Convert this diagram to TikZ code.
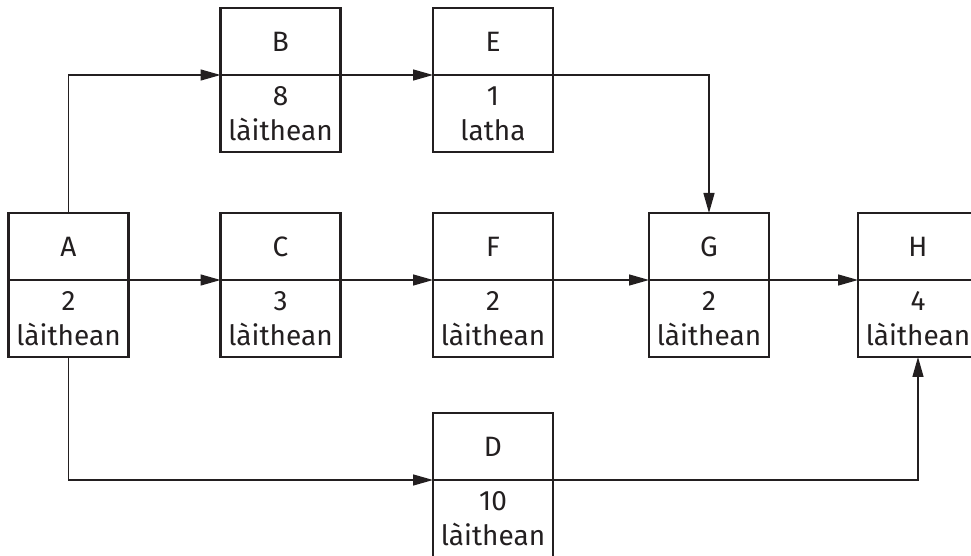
\documentclass[tikz,border=0pt]{standalone}
\usepackage{fontspec}
\setmainfont{Fira Sans}
\usetikzlibrary{arrows.meta,positioning}
\definecolor{ink}{HTML}{231F20}

\tikzset{
  head/.style={draw=ink, line width=1.3pt, minimum width=60pt, minimum height=33.5pt,
    inner sep=0pt, outer sep=0pt, anchor=south},
  body/.style={draw=ink, line width=1.3pt, minimum width=60pt, minimum height=38.5pt,
    inner sep=0pt, outer sep=0pt, align=center},
  link/.style={draw=ink, line width=.7pt, -{Triangle[length=10pt,width=5.5pt]}}
}

\begin{document}
\begin{tikzpicture}[x=.5pt,y=-.5pt,font=\fontsize{14}{17.5}\selectfont,text=ink]
\useasboundingbox (0,0) rectangle (971,556);

        % task names
        \node[head] (A) at (68.5,280) {A};
        \node[head] (B) at (280.5,75) {B};
        \node[head] (C) at (280.5,280) {C};
        \node[head] (D) at (493,480) {D};
        \node[head] (E) at (493,75) {E};
        \node[head] (F) at (493,280) {F};
        \node[head] (G) at (709,280) {G};
        \node[head] (H) at (918,280) {H};

        % durations
        \begin{scope}[every node/.style={body}]
          \node[below=0pt of A] (A-d) {2\\làithean};
          \node[below=0pt of B] (B-d) {8\\làithean};
          \node[below=0pt of C] (C-d) {3\\làithean};
          \node[below=0pt of D] (D-d) {10\\làithean};
          \node[below=0pt of E] (E-d) {1\\latha};
          \node[below=0pt of F] (F-d) {2\\làithean};
          \node[below=0pt of G] (G-d) {2\\làithean};
          \node[below=0pt of H] (H-d) {4\\làithean};
        \end{scope}

        \path[link] (A.north) |- (B.south west);
        \path[link] (B.south east) -- (E.south west);
        \path[link] (E.south east) -| (G.north);
        \path[link] (A.south east) -- (C.south west);
        \path[link] (C.south east) -- (F.south west);
        \path[link] (F.south east) -- (G.south west);
        \path[link] (G.south east) -- (H.south west);
        \path[link] (A-d.south) |- (D.south west);
        \path[link] (D.south east) -| (H-d.south);

      \end{tikzpicture}
\end{document}
